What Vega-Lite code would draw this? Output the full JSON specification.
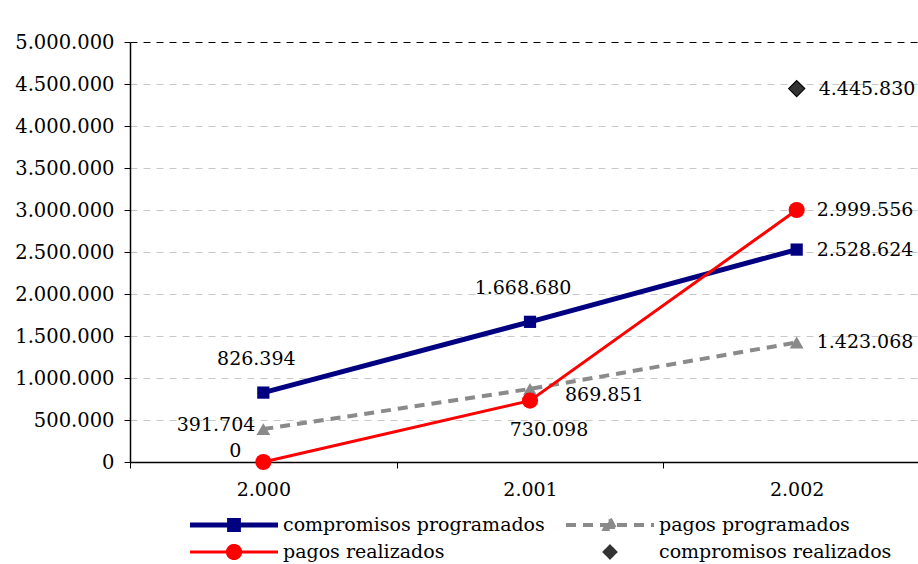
{
  "$schema": "https://vega.github.io/schema/vega-lite/v6.json",
  "autosize": {"type": "none"},
  "padding": {"left": 130, "top": 42, "right": 0, "bottom": 102},
  "width": 788,
  "height": 420,
  "background": "white",
  "config": {
    "font": "DejaVu Serif",
    "view": {"stroke": null},
    "locale": {"number": {"decimal": ",", "thousands": ".", "grouping": [3], "currency": ["", " €"]}}
  },
  "data": {
    "values": [
      {"anio": 2000, "serie": "compromisos programados", "valor": 826394},
      {"anio": 2001, "serie": "compromisos programados", "valor": 1668680},
      {"anio": 2002, "serie": "compromisos programados", "valor": 2528624},
      {"anio": 2000, "serie": "pagos programados", "valor": 391704},
      {"anio": 2001, "serie": "pagos programados", "valor": 869851},
      {"anio": 2002, "serie": "pagos programados", "valor": 1423068},
      {"anio": 2000, "serie": "pagos realizados", "valor": 0},
      {"anio": 2001, "serie": "pagos realizados", "valor": 730098},
      {"anio": 2002, "serie": "pagos realizados", "valor": 2999556},
      {"anio": 2002, "serie": "compromisos realizados", "valor": 4445830}
    ]
  },
  "encoding": {
    "x": {
      "field": "anio", "type": "ordinal",
      "scale": {"type": "band", "paddingInner": 0, "paddingOuter": 0, "range": [0, 800]},
      "axis": {
        "title": null, "format": ",d", "formatType": "number", "labelAngle": 0,
        "tickBand": "extent", "tickSize": 6, "tickColor": "black", "domainColor": "black", "domainWidth": 1.5,
        "labelFont": "DejaVu Serif", "labelFontSize": 19, "labelColor": "black", "labelPadding": 12, "grid": false
      }
    },
    "y": {
      "field": "valor", "type": "quantitative",
      "scale": {"domain": [0, 5000000], "nice": false},
      "axis": {
        "title": null, "format": ",d", "values": [0, 500000, 1000000, 1500000, 2000000, 2500000, 3000000, 3500000, 4000000, 4500000, 5000000],
        "tickSize": 6, "tickColor": "black", "domainColor": "black", "domainWidth": 1.5,
        "labelFont": "DejaVu Serif", "labelFontSize": 19.5, "labelColor": "black", "labelPadding": 10,
        "grid": true, "gridDash": [7, 6],
        "gridColor": {"condition": {"test": "datum.value == 5000000", "value": "black"}, "value": "#c8c8c8"}
      }
    }
  },
  "layer": [
    {
      "transform": [{"filter": "datum.serie == 'compromisos programados'"}],
      "mark": {"type": "line", "strokeWidth": 5},
      "encoding": {
        "color": {
          "field": "serie", "type": "nominal",
          "scale": {
            "domain": ["compromisos programados", "pagos programados", "pagos realizados", "compromisos realizados"],
            "range": ["#000080", "#8a8a8a", "#ff0000", "#333333"]
          },
          "legend": {
            "title": null, "orient": "none", "legendX": 60, "legendY": 471,
            "columns": 2, "direction": "horizontal", "columnPadding": 21, "rowPadding": 3,
            "clipHeight": 24, "symbolOffset": 34.5, "labelOffset": 39.5, "labelLimit": 400,
            "labelFont": "DejaVu Serif", "labelFontSize": 19, "labelColor": "black",
            "encode": {
              "symbols": {
                "update": {
                  "size": {"value": 7744},
                  "shape": {"signal": "datum.value == 'compromisos programados' ? 'M-1,0H1M-0.1,-0.1H0.1V0.1H-0.1Z' : datum.value == 'pagos programados' ? 'M-1,0H1M0,-0.14L0.12,0.09H-0.12Z' : datum.value == 'pagos realizados' ? 'M-1,0H1M-0.15,0A0.15,0.15 0 1,0 0.15,0A0.15,0.15 0 1,0 -0.15,0Z' : 'M0,-0.16L0.16,0L0,0.16L-0.16,0Z'"},
                  "fill": {"signal": "datum.value == 'compromisos programados' ? '#000080' : datum.value == 'pagos programados' ? '#8a8a8a' : datum.value == 'pagos realizados' ? '#ff0000' : '#333333'"},
                  "stroke": {"signal": "datum.value == 'compromisos programados' ? '#000080' : datum.value == 'pagos programados' ? '#8a8a8a' : datum.value == 'pagos realizados' ? '#ff0000' : '#000000'"},
                  "strokeWidth": {"signal": "datum.value == 'compromisos programados' ? 5 : datum.value == 'pagos programados' ? 4 : datum.value == 'pagos realizados' ? 3 : 1.2"},
                  "strokeDash": {"signal": "datum.value == 'pagos programados' ? [10, 7] : [1, 0]"},
                  "opacity": {"value": 1}
                }
              }
            }
          }
        }
      }
    },
    {
      "transform": [{"filter": "datum.serie == 'pagos programados'"}],
      "mark": {"type": "line", "strokeWidth": 4, "strokeDash": [10, 7]},
      "encoding": {"color": {"field": "serie", "type": "nominal"}}
    },
    {
      "transform": [{"filter": "datum.serie == 'pagos realizados'"}],
      "mark": {"type": "line", "strokeWidth": 3},
      "encoding": {"color": {"field": "serie", "type": "nominal"}}
    },
    {
      "transform": [{"filter": "datum.serie == 'compromisos programados'"}],
      "mark": {"type": "point", "shape": "square", "size": 150, "filled": true, "color": "#000080", "opacity": 1}
    },
    {
      "transform": [{"filter": "datum.serie == 'pagos programados'"}],
      "mark": {"type": "point", "shape": "triangle-up", "size": 190, "filled": true, "color": "#8a8a8a", "opacity": 1}
    },
    {
      "transform": [{"filter": "datum.serie == 'pagos realizados'"}],
      "mark": {"type": "point", "shape": "circle", "size": 260, "filled": true, "color": "#ff0000", "opacity": 1}
    },
    {
      "transform": [{"filter": "datum.serie == 'compromisos realizados'"}],
      "mark": {"type": "point", "shape": "diamond", "size": 260, "filled": true, "fill": "#333333", "stroke": "black", "strokeWidth": 1.2, "opacity": 1}
    },
    {
      "transform": [{"filter": "datum.serie == 'compromisos programados' && datum.anio < 2002"}],
      "mark": {"type": "text", "align": "center", "baseline": "middle", "dx": -7, "dy": -34, "fontSize": 19, "color": "black"},
      "encoding": {"text": {"field": "valor", "type": "quantitative", "format": ",d"}}
    },
    {
      "transform": [{"filter": "datum.anio == 2002 && datum.serie != 'compromisos realizados'"}],
      "mark": {"type": "text", "align": "left", "baseline": "middle", "dx": 20, "dy": 0, "fontSize": 19, "color": "black"},
      "encoding": {"text": {"field": "valor", "type": "quantitative", "format": ",d"}}
    },
    {
      "transform": [{"filter": "datum.serie == 'compromisos realizados'"}],
      "mark": {"type": "text", "align": "left", "baseline": "middle", "dx": 22, "dy": 0, "fontSize": 19, "color": "black"},
      "encoding": {"text": {"field": "valor", "type": "quantitative", "format": ",d"}}
    },
    {
      "transform": [{"filter": "datum.serie == 'pagos programados' && datum.anio == 2000"}],
      "mark": {"type": "text", "align": "right", "baseline": "middle", "dx": -8, "dy": -4, "fontSize": 19, "color": "black"},
      "encoding": {"text": {"field": "valor", "type": "quantitative", "format": ",d"}}
    },
    {
      "transform": [{"filter": "datum.serie == 'pagos programados' && datum.anio == 2001"}],
      "mark": {"type": "text", "align": "left", "baseline": "middle", "dx": 35, "dy": 6, "fontSize": 19, "color": "black"},
      "encoding": {"text": {"field": "valor", "type": "quantitative", "format": ",d"}}
    },
    {
      "transform": [{"filter": "datum.serie == 'pagos realizados' && datum.anio == 2000"}],
      "mark": {"type": "text", "align": "right", "baseline": "middle", "dx": -22, "dy": -11, "fontSize": 19, "color": "black"},
      "encoding": {"text": {"field": "valor", "type": "quantitative", "format": ",d"}}
    },
    {
      "transform": [{"filter": "datum.serie == 'pagos realizados' && datum.anio == 2001"}],
      "mark": {"type": "text", "align": "center", "baseline": "middle", "dx": 19, "dy": 29, "fontSize": 19, "color": "black"},
      "encoding": {"text": {"field": "valor", "type": "quantitative", "format": ",d"}}
    }
  ]
}
